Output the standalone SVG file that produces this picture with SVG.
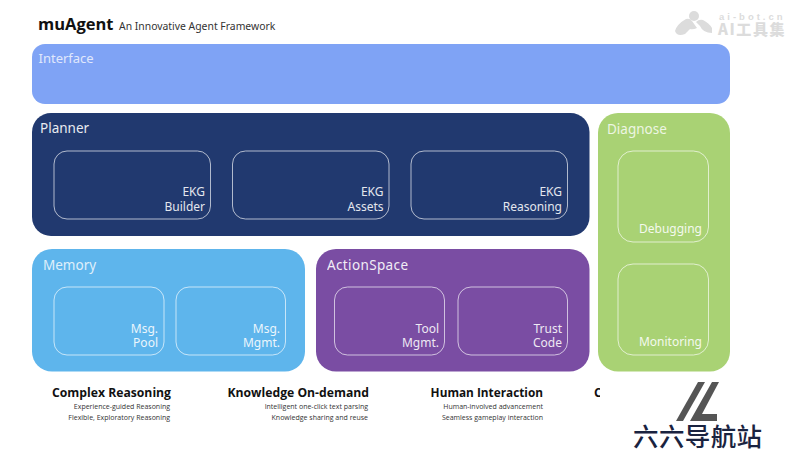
<svg xmlns="http://www.w3.org/2000/svg" width="800" height="450" viewBox="0 0 800 450">
<style>
text{font-family:"Noto Sans","Open Sans","Noto Sans CJK SC",sans-serif}
.t{fill:#fff;font-size:13px;opacity:.75}
.h{fill:#fff;font-size:13.5px;opacity:.9}
.m{fill:#fff;font-size:13.5px;opacity:.8}
.l{fill:#fff;font-size:12px;text-anchor:end;opacity:.88}
.i{fill:none;stroke:#fff;stroke-width:1;opacity:.65}
.b{font-family:"Open Sans","Noto Sans",sans-serif;font-size:12.2px;font-weight:700;fill:#111;text-anchor:end}
.s{font-family:"Open Sans","Noto Sans",sans-serif;font-size:7px;fill:#333;text-anchor:end}
</style>
<defs><clipPath id="c"><rect x="590" y="380" width="10" height="30"/></clipPath></defs>
<rect width="800" height="450" fill="#fff"/>
<g id="title">
<text x="38" y="30" style="font-size:16.5px;font-weight:700;fill:#111;font-family:'Open Sans',sans-serif">muAgent</text>
<text x="119" y="30" style="font-size:10.4px;fill:#333">An Innovative Agent Framework</text>
</g>
<g id="watermark" fill="#dcdcdc">
<circle cx="694" cy="16" r="5"/>
<path d="M675 31 Q677 24 686 19 Q690 18 692 21 L697 28 Q693 30 690 29 L685 34 Q677 37 675 31Z"/>
<path d="M712 33 Q703 33 700 26 L696 22 Q699 19 703 20 Q709 23 712 28Z"/>
<text x="719" y="19.500" style="font-size:9.500px;font-weight:700;letter-spacing:3px;font-family:'Liberation Sans',sans-serif">ai-bot.cn</text>
<text x="718" y="35" style="font-size:15px;font-weight:900;letter-spacing:1.6px;font-family:'Noto Sans CJK SC',sans-serif">AI工具集</text>
</g>
<g id="interface"><rect x="32" y="44" width="698" height="60" rx="13" fill="#7fa3f5"/><text class="t" x="38.500" y="62.500">Interface</text></g>
<g id="planner"><rect x="32" y="113" width="557.500" height="123" rx="19" fill="#21396f"/><text class="h" x="40" y="133">Planner</text></g>
<g id="ekg-builder"><rect class="i" x="54" y="151" width="156.500" height="68" rx="13"/><text class="l" x="205" y="196">EKG</text><text class="l" x="205" y="211">Builder</text></g>
<g id="ekg-assets"><rect class="i" x="232.500" y="151" width="156.500" height="68" rx="13"/><text class="l" x="383.500" y="196">EKG</text><text class="l" x="383.500" y="211">Assets</text></g>
<g id="ekg-reasoning"><rect class="i" x="411" y="151" width="156.500" height="68" rx="13"/><text class="l" x="562" y="196">EKG</text><text class="l" x="562" y="211">Reasoning</text></g>
<g id="memory"><rect x="32" y="249" width="273" height="122.500" rx="20" fill="#5eb5ec"/><text class="m" x="43" y="270">Memory</text></g>
<g id="msg-pool"><rect class="i" x="54" y="287" width="110" height="68" rx="13"/><text class="l" x="158" y="333">Msg.</text><text class="l" x="158" y="347">Pool</text></g>
<g id="msg-mgmt"><rect class="i" x="176" y="287" width="109.500" height="68" rx="13"/><text class="l" x="280" y="333">Msg.</text><text class="l" x="280" y="347">Mgmt.</text></g>
<g id="actionspace"><rect x="316" y="249" width="273.500" height="122.500" rx="20" fill="#7a4da3"/><text class="h" x="327" y="270" textLength="81">ActionSpace</text></g>
<g id="tool-mgmt"><rect class="i" x="334.500" y="287" width="110" height="68" rx="13"/><text class="l" x="439" y="333">Tool</text><text class="l" x="439" y="347">Mgmt.</text></g>
<g id="trust-code"><rect class="i" x="458" y="287" width="109.500" height="68" rx="13"/><text class="l" x="562" y="333">Trust</text><text class="l" x="562" y="347">Code</text></g>
<g id="diagnose"><rect x="598" y="113" width="132" height="258.500" rx="20" fill="#a9d274"/><text class="m" x="607" y="134">Diagnose</text></g>
<g id="debugging"><rect class="i" x="618" y="151" width="90.500" height="91" rx="15"/><text class="l" x="702" y="233">Debugging</text></g>
<g id="monitoring"><rect class="i" x="618" y="264" width="90.500" height="91" rx="15"/><text class="l" x="702" y="346">Monitoring</text></g>
<g id="features">
<text class="b" x="171" y="397">Complex Reasoning</text>
<text class="s" x="170" y="409">Experience-guided Reasoning</text>
<text class="s" x="170" y="420">Flexible, Exploratory Reasoning</text>
<text class="b" x="369" y="397">Knowledge On-demand</text>
<text class="s" x="368" y="409">Intelligent one-click text parsing</text>
<text class="s" x="368" y="420">Knowledge sharing and reuse</text>
<text class="b" x="543" y="397" style="font-size:11.800px">Human Interaction</text>
<text class="s" x="543" y="409">Human-involved advancement</text>
<text class="s" x="543" y="420">Seamless gameplay interaction</text>
<text clip-path="url(#c)" x="594" y="397" style="font-family:'Open Sans',sans-serif;font-size:12.200px;font-weight:700;fill:#111">C</text>
</g>
<g id="logo">
<polygon points="698,382 705,382 683,421 676,421" fill="#555"/>
<polygon points="712,382 719,382 702,414 717,414 717,421 690,421" fill="#555"/>
<text x="633" y="446" style="font-family:'Noto Sans CJK SC',sans-serif;font-size:25.500px;font-weight:500;fill:#1a2340;letter-spacing:.4px">六六导航站</text>
</g>
</svg>
